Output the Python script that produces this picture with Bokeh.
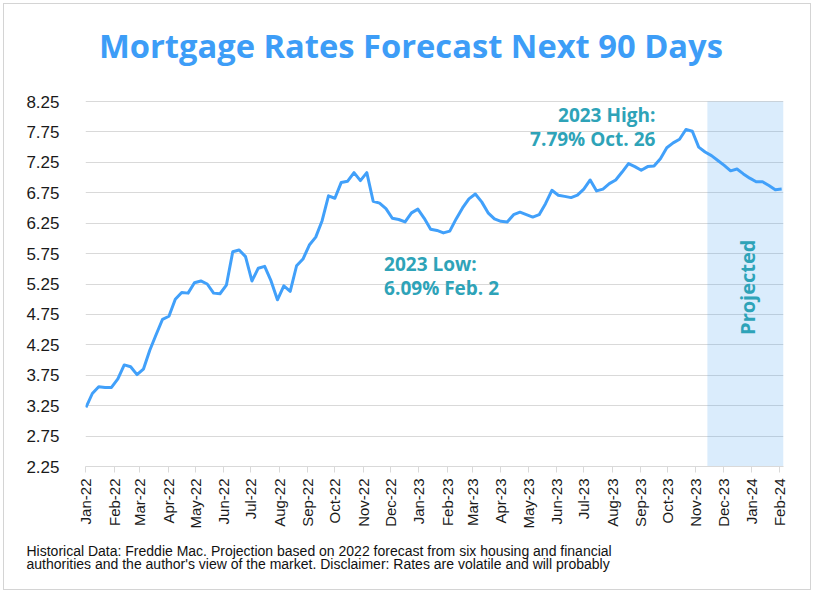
from datetime import datetime
import pandas as pd
from bokeh.plotting import figure
from bokeh.models import (Range1d, FixedTicker, DatetimeTickFormatter, NumeralTickFormatter,
                          BoxAnnotation, Label, Title)
from bokeh.embed import file_html
from bokeh.resources import INLINE
from math import pi

# ---- data ----
title_text = "Mortgage Rates Forecast Next 90 Days"
rates_2022 = [3.22, 3.45, 3.56, 3.55, 3.55, 3.69, 3.92, 3.89, 3.76, 3.85, 4.16, 4.42, 4.67,
              4.72, 5.00, 5.11, 5.10, 5.27, 5.30, 5.25, 5.10, 5.09, 5.23, 5.78, 5.81, 5.70,
              5.30, 5.51, 5.54, 5.30, 4.99, 5.22, 5.13, 5.55, 5.66, 5.89, 6.02, 6.29, 6.70,
              6.66, 6.92, 6.94, 7.08, 6.95, 7.08, 6.61, 6.58, 6.49, 6.33, 6.31, 6.27, 6.42]
rates_2023 = [6.48, 6.33, 6.15, 6.13, 6.09, 6.12, 6.32, 6.50, 6.65, 6.73, 6.60, 6.42, 6.32,
              6.28, 6.27, 6.39, 6.43, 6.39, 6.35, 6.39, 6.57, 6.79, 6.71, 6.69, 6.67, 6.71,
              6.81, 6.96, 6.78, 6.81, 6.90, 6.96, 7.09, 7.23, 7.18, 7.12, 7.18, 7.19, 7.31,
              7.49, 7.57, 7.63, 7.79, 7.76, 7.50]
rates_projected = [7.42, 7.36, 7.28, 7.20, 7.11, 7.14, 7.06, 6.99, 6.93, 6.93, 6.87, 6.80, 6.81]
rates = rates_2022 + rates_2023 + rates_projected
dates = pd.date_range("2022-01-01", periods=len(rates), freq="7D")

month_ticks = pd.date_range("2022-01-01", "2024-02-01", freq="MS")
y_ticks = [2.25, 2.75, 3.25, 3.75, 4.25, 4.75, 5.25, 5.75, 6.25, 6.75, 7.25, 7.75, 8.25]
projection_start = datetime(2023, 11, 13, 12)

high_lines = ["2023 High:", "7.79% Oct. 26"]
low_lines = ["2023 Low:", "6.09% Feb. 2"]
footer_lines = ["Historical Data: Freddie Mac. Projection based on 2022 forecast from six housing and financial",
                "authorities and the author's view of the market. Disclaimer: Rates are volatile and will probably"]

def ms(dt):
    return (pd.Timestamp(dt) - pd.Timestamp("1970-01-01")).total_seconds() * 1000.0

x_start = datetime(2021, 12, 31, 12)
x_end = datetime(2024, 2, 5)
y_bottom, y_top_tick = 2.25, 8.25
# plotting area extends above the top gridline to hold the title (no visible y axis line)
y_end = y_top_tick + 87 * (y_top_tick - y_bottom) / 365

p = figure(x_axis_type="datetime", frame_width=698, frame_height=452,
           min_border_left=81, min_border_top=10, min_border_right=27, min_border_bottom=123,
           x_range=Range1d(x_start, x_end), y_range=Range1d(y_bottom, y_end),
           output_backend="svg", toolbar_location=None,
           styles={"margin-left": "3px", "margin-top": "3px", "border": "1px solid #d4d4d4"})
p.outline_line_color = None
p.background_fill_color = "white"
p.border_fill_color = "white"

# grid
p.xgrid.visible = False
p.ygrid.grid_line_color = "#d9d9d9"
p.ygrid.grid_line_width = 1
p.ygrid.ticker = FixedTicker(ticks=y_ticks)

# y axis
p.yaxis.ticker = FixedTicker(ticks=y_ticks)
p.yaxis.formatter = NumeralTickFormatter(format="0.00")
p.yaxis.axis_line_color = None
p.yaxis.major_tick_line_color = None
p.yaxis.minor_tick_line_color = None
p.yaxis.major_label_standoff = 20
p.yaxis.major_label_text_font = "Liberation Sans"
p.yaxis.major_label_text_font_size = "17px"
p.yaxis.major_label_text_color = "#1a1a1a"

# x axis
p.xaxis.ticker = FixedTicker(ticks=[ms(t) for t in month_ticks])
fmt = "%b-%y"
p.xaxis.formatter = DatetimeTickFormatter(milliseconds=fmt, seconds=fmt, minsec=fmt, minutes=fmt,
                                          hourmin=fmt, hours=fmt, days=fmt, months=fmt, years=fmt)
p.xaxis.axis_line_color = "#d9d9d9"
p.xaxis.major_tick_line_color = "#d9d9d9"
p.xaxis.major_tick_out = 6
p.xaxis.major_tick_in = 0
p.xaxis.minor_tick_line_color = None
p.xaxis.major_label_orientation = pi / 2
p.xaxis.major_label_standoff = 6
p.xaxis.major_label_text_font = "Liberation Sans"
p.xaxis.major_label_text_font_size = "15px"
p.xaxis.major_label_text_color = "#1a1a1a"

# footer
p.add_layout(Title(text=footer_lines[0] + "\n" + footer_lines[1], text_font="Liberation Sans",
                   text_font_size="14px", text_font_style="normal", text_color="#111111",
                   align="left", offset=-59, standoff=18, text_line_height=0.85), "below")

# projected shading
p.add_layout(BoxAnnotation(left=ms(projection_start), right=ms(x_end), bottom=y_bottom,
                           top=y_top_tick, fill_color="#3C9BF0",
                           fill_alpha=0.19, line_color=None, level="underlay"))

# the line
p.line(dates, rates, line_width=3, line_color="#41A0FA", line_join="round")

# title
p.add_layout(Label(x=ms(datetime(2022, 12, 23, 9)), y=9.165, text=title_text,
                   text_font="Open Sans", text_font_size="32.7px", text_font_style="bold",
                   text_color="#3D9DF7", text_align="center", text_baseline="alphabetic"))

teal = "#2EA3B8"
def add_label(x, y, text, size, align="left", angle=0, baseline="alphabetic"):
    p.add_layout(Label(x=ms(x), y=y, text=text, text_font="Open Sans", text_font_size=size,
                       text_font_style="bold", text_color=teal, text_align=align,
                       text_baseline=baseline, angle=angle))

add_label(datetime(2023, 9, 17, 12), 8.030, high_lines[0], "19px", align="right")
add_label(datetime(2023, 9, 17, 12), 7.630, high_lines[1], "19px", align="right")
add_label(datetime(2022, 11, 24), 5.575, low_lines[0], "19px")
add_label(datetime(2022, 11, 24), 5.181, low_lines[1], "19px")
add_label(datetime(2023, 12, 28), 5.197, "Projected", "20px",
          align="center", angle=pi / 2, baseline="middle")

open("out.html", "w").write(file_html(p, INLINE))
